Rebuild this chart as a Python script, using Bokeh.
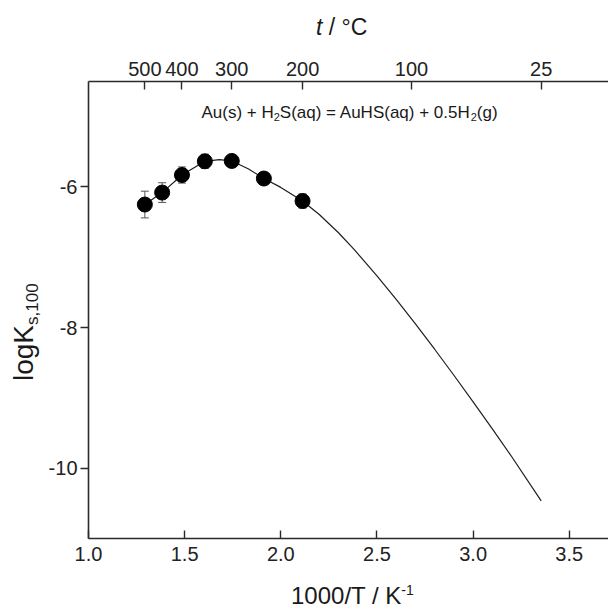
import math
from bokeh.plotting import figure
from bokeh.layouts import column, row
from bokeh.models import (Range1d, LinearAxis, FixedTicker, Label, Whisker, TeeHead, Div,
                          ColumnDataSource, NumeralTickFormatter, CustomJSTickFormatter)
from bokeh.embed import file_html
from bokeh.resources import INLINE

# ---------------- data ----------------
pt_x = [1.293, 1.383, 1.486, 1.605, 1.745, 1.912, 2.113]        # 1000/T of the measurements
pt_y = [-6.25, -6.08, -5.83, -5.635, -5.63, -5.88, -6.20]        # logK
pt_err = [0.19, 0.14, 0.115, 0.10, 0.04, 0.06, 0.10]

curve_x = [1.293, 1.383, 1.486, 1.605, 1.68, 1.745, 1.83, 1.912, 2.0, 2.113,
           2.2, 2.3, 2.381, 2.5, 2.6, 2.7, 2.8, 2.9, 3.0, 3.1, 3.2, 3.354]
curve_y = [-6.25, -6.08, -5.83, -5.635, -5.61, -5.63, -5.74, -5.88, -6.006, -6.20,
           -6.391, -6.651, -6.888, -7.264, -7.599, -7.948, -8.308, -8.678, -9.056, -9.442, -9.834, -10.465]

bottom_ticks = [1.0, 1.5, 2.0, 2.5, 3.0, 3.5]
left_ticks = [-10, -8, -6]
top_temps_C = [500, 400, 300, 200, 100, 25]
top_ticks = [1000.0 / (t + 273.15) for t in top_temps_C]

X0, X1 = 1.0, 3.704
Y0, Y1 = -11.0, -4.5

FONT = "Liberation Sans"
AX = "#2a2a2a"

# ---------------- figure ----------------
TOP_DIV_H, LEFT_DIV_W, BOTTOM_DIV_H = 40, 44, 34
p = figure(width=608 - LEFT_DIV_W, height=608 - TOP_DIV_H - BOTTOM_DIV_H,
           output_backend="svg", toolbar_location=None,
           x_range=Range1d(X0, X1), y_range=Range1d(Y0, Y1),
           min_border_left=88 - LEFT_DIV_W, min_border_right=0,
           min_border_top=81 - TOP_DIV_H, min_border_bottom=608 - BOTTOM_DIV_H - 538,
           margin=0)
p.outline_line_color = None
p.xgrid.visible = False
p.ygrid.visible = False
p.background_fill_color = "white"


def style_axis(ax, tick_in, tick_out, standoff):
    ax.major_tick_in = tick_in
    ax.major_tick_out = tick_out
    ax.minor_tick_line_color = None
    ax.major_label_standoff = standoff
    ax.axis_line_color = AX
    ax.axis_line_width = 1.6
    ax.major_tick_line_color = AX
    ax.major_tick_line_width = 1.4
    ax.major_label_text_font = FONT
    ax.major_label_text_font_size = "20px"
    ax.major_label_text_color = "#222222"


bx = p.xaxis[0]
bx.ticker = FixedTicker(ticks=bottom_ticks, minor_ticks=[])
bx.formatter = NumeralTickFormatter(format="0.0")
style_axis(bx, 8, 0, 8)

ly = p.yaxis[0]
ly.ticker = FixedTicker(ticks=left_ticks, minor_ticks=[])
ly.formatter = NumeralTickFormatter(format="0")
style_axis(ly, 0, 8, 3)

top = LinearAxis(ticker=FixedTicker(ticks=top_ticks, minor_ticks=[]),
                 formatter=CustomJSTickFormatter(code="return Math.round(1000/tick - 273.15).toString();"))
style_axis(top, 8, 0, 6)
p.add_layout(top, "above")

# ---------------- glyphs ----------------
src = ColumnDataSource(dict(x=pt_x, y=pt_y,
                            upper=[a + e for a, e in zip(pt_y, pt_err)],
                            lower=[a - e for a, e in zip(pt_y, pt_err)]))
p.line(curve_x, curve_y, line_color="#1e1e1e", line_width=1.2)
p.add_layout(Whisker(base="x", upper="upper", lower="lower", source=src, dimension="height",
                     line_color="#555555", line_width=1,
                     upper_head=TeeHead(size=8, line_color="#555555", line_width=1),
                     lower_head=TeeHead(size=8, line_color="#555555", line_width=1),
                     level="underlay"))
p.scatter("x", "y", source=src, size=15, fill_color="black", line_color="black")

# ---------------- reaction text inside the frame ----------------
FL, FT, SX, SY = 88.0, 81.0, (608 - 88) / (X1 - X0), (538 - 81) / (Y1 - Y0)
def dx(px):
    return X0 + (px - FL) / SX
def dy(py):
    return Y1 - (py - FT) / SY

W = {'0': .556, '1': .556, '2': .556, '3': .556, '4': .556, '5': .556, '6': .556, '7': .556,
     '8': .556, '9': .556, '.': .278, ',': .278, '/': .278, ' ': .278, '-': .333, '(': .333,
     ')': .333, '+': .584, '=': .584, 'A': .667, 'u': .556, 's': .5, 'H': .722, 'S': .667,
     'a': .556, 'q': .556, 'g': .556}
def tw(s, size):
    return sum(W.get(c, .556) for c in s) * size

rx = [("Au(s) + H", 17, 0), ("2", 11, 4), ("S(aq) = AuHS(aq) + 0.5H", 17, 0), ("2", 11, 4), ("(g)", 17, 0)]
pos = 349 - sum(tw(t, s) for t, s, _ in rx) / 2
for text, size, shift in rx:
    p.add_layout(Label(x=dx(pos), y=dy(112 + shift), text=text, text_font=FONT,
                       text_font_size=f"{size}px", text_color="#1a1a1a",
                       text_align="left", text_baseline="alphabetic"))
    pos += tw(text, size)

# ---------------- axis titles (HTML, with italics / sub / superscripts) ----------------
base = f"font-family:'{FONT}';color:#1a1a1a;white-space:nowrap;line-height:1;"
top_div = Div(width=608, height=TOP_DIV_H, margin=0, text=(
    f"<div style=\"{base}font-size:23px;transform:translate(316px,16px);transform-origin:0 0;\">"
    "<i>t</i> / °C</div>"))
left_div = Div(width=LEFT_DIV_W, height=608 - TOP_DIV_H - BOTTOM_DIV_H, margin=0, text=(
    f"<div style=\"{base}font-size:28px;transform-origin:0 0;"
    f"transform:translate(10px,{381 - TOP_DIV_H}px) rotate(-90deg);\">"
    "logK<span style=\"font-size:17px;position:relative;top:5px\">s,100</span></div>"))
bottom_div = Div(width=608, height=BOTTOM_DIV_H, margin=0, text=(
    f"<div style=\"{base}font-size:24px;transform-origin:0 0;transform:translate(291px,10px);\">"
    "1000/T / K<span style=\"font-size:14px;position:relative;top:-9px\">-1</span></div>"))

layout = column(top_div, row(left_div, p, margin=0), bottom_div, margin=0)
open("out.html", "w").write(file_html(layout, INLINE))
